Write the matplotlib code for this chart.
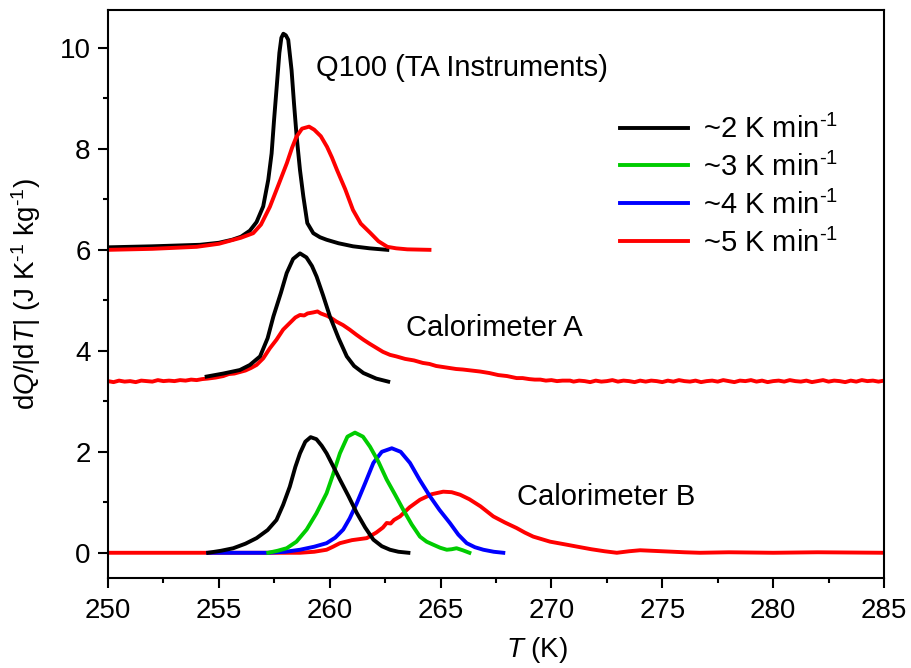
import matplotlib.pyplot as plt
from matplotlib.ticker import MultipleLocator

# Q100 (TA Instruments)
q100_t2 = [250.0, 252.0, 254.15, 255.0, 255.6, 256.0, 256.4, 256.7, 257.0, 257.23, 257.38,
           257.49, 257.61, 257.73, 257.82, 257.91, 258.02, 258.13, 258.28, 258.39, 258.51,
           258.66, 258.81, 258.99, 259.26, 259.56, 259.86, 260.4, 261.05, 261.8, 262.6]
q100_y2 = [6.05, 6.07, 6.1, 6.14, 6.2, 6.26, 6.38, 6.55, 6.86, 7.39, 7.91,
           8.57, 9.23, 9.9, 10.2, 10.28, 10.25, 10.16, 9.56, 8.9, 8.24,
           7.58, 7.06, 6.53, 6.33, 6.25, 6.2, 6.13, 6.07, 6.03, 6.0]
q100_t5 = [250.0, 252.0, 254.0, 255.0, 255.5, 256.0, 256.55, 256.9, 257.3, 257.7, 258.07,
           258.3, 258.5, 258.75, 259.07, 259.3, 259.6, 259.88, 260.1, 260.33, 260.7,
           261.05, 261.4, 261.82, 262.2, 262.6, 263.0, 263.5, 264.5]
q100_y5 = [6.0, 6.02, 6.06, 6.12, 6.18, 6.24, 6.33, 6.5, 6.85, 7.3, 7.72,
           8.02, 8.24, 8.4, 8.44, 8.38, 8.25, 8.04, 7.83, 7.58, 7.2,
           6.79, 6.52, 6.34, 6.17, 6.06, 6.03, 6.01, 6.0]

# Calorimeter A
a_t2 = [254.45, 255.2, 255.95, 256.4, 256.86, 257.2, 257.46, 257.8, 258.06, 258.35, 258.66,
        258.95, 259.2, 259.41, 259.7, 260.01, 260.4, 260.77, 261.1, 261.52, 262.1, 262.64]
a_y2 = [3.49, 3.55, 3.62, 3.72, 3.89, 4.25, 4.68, 5.15, 5.54, 5.82, 5.93,
        5.85, 5.68, 5.47, 5.1, 4.68, 4.25, 3.89, 3.7, 3.56, 3.45, 3.39]
a_t5 = [250.0, 250.25, 250.5, 250.75, 251.0, 251.25, 251.5, 251.75, 252.0, 252.25, 252.5,
        252.75, 253.0, 253.25, 253.5, 253.75, 254.0, 254.25, 254.5, 254.85, 255.2,
        255.45, 255.7, 255.95, 256.2, 256.45, 256.7, 257.0, 257.3, 257.6, 257.9,
        258.2, 258.45, 258.66, 258.85, 259.0, 259.25, 259.45, 259.6, 259.9, 260.1,
        260.3, 260.6, 260.9, 261.2, 261.52, 261.8, 262.1, 262.4, 262.72, 263.0,
        263.4, 263.8, 264.2, 264.5, 264.8, 265.1, 265.4, 265.7, 266.0, 266.4,
        266.78, 267.2, 267.6, 268.0, 268.43, 268.7, 269.0, 269.25, 269.5, 269.75,
        270.0, 270.25, 270.5, 270.84, 271.0, 271.25, 271.5, 271.75, 272.0, 272.25,
        272.5, 272.75, 273.0, 273.25, 273.5, 273.75, 274.0, 274.25, 274.5, 274.75,
        275.0, 275.25, 275.5, 275.75, 276.0, 276.25, 276.5, 276.75, 277.0, 277.25,
        277.5, 277.75, 278.0, 278.25, 278.5, 278.75, 279.0, 279.25, 279.5, 279.75,
        280.0, 280.25, 280.5, 280.75, 281.0, 281.25, 281.5, 281.75, 282.0, 282.25,
        282.5, 282.75, 283.0, 283.25, 283.5, 283.75, 284.0, 284.25, 284.5, 284.75,
        285.0]
a_y5 = [3.40, 3.38, 3.41, 3.39, 3.40, 3.38, 3.41, 3.40, 3.39, 3.42, 3.40,
        3.41, 3.40, 3.42, 3.41, 3.43, 3.42, 3.44, 3.45, 3.47, 3.50,
        3.54, 3.55, 3.58, 3.61, 3.66, 3.72, 3.85, 4.05, 4.22, 4.42,
        4.55, 4.66, 4.71, 4.70, 4.74, 4.76, 4.78, 4.74, 4.69, 4.64,
        4.58, 4.51, 4.42, 4.32, 4.22, 4.14, 4.06, 3.98, 3.92, 3.89,
        3.84, 3.81, 3.76, 3.74, 3.70, 3.68, 3.66, 3.64, 3.63, 3.61,
        3.59, 3.56, 3.52, 3.50, 3.46, 3.46, 3.44, 3.43, 3.43, 3.41,
        3.42, 3.40, 3.41, 3.41, 3.39, 3.41, 3.40, 3.38, 3.41, 3.39,
        3.40, 3.42, 3.39, 3.41, 3.40, 3.38, 3.41, 3.39, 3.41, 3.40,
        3.38, 3.41, 3.39, 3.42, 3.40, 3.39, 3.41, 3.38, 3.40, 3.41,
        3.39, 3.42, 3.40, 3.38, 3.41, 3.40, 3.42, 3.39, 3.41, 3.38,
        3.40, 3.41, 3.39, 3.42, 3.40, 3.39, 3.41, 3.38, 3.40, 3.42,
        3.39, 3.41, 3.40, 3.38, 3.41, 3.39, 3.42, 3.40, 3.41, 3.39,
        3.41]

# Calorimeter B
b_t2 = [254.52, 255.1, 255.65, 256.2, 256.7, 257.2, 257.6, 257.9, 258.2, 258.45, 258.66,
        258.9, 259.14, 259.4, 259.64, 259.86, 260.15, 260.46, 260.85, 261.22, 261.6,
        261.97, 262.35, 262.72, 263.1, 263.55]
b_y2 = [0.0, 0.04, 0.09, 0.18, 0.29, 0.45, 0.65, 0.95, 1.31, 1.7, 1.97,
        2.2, 2.29, 2.25, 2.12, 1.97, 1.72, 1.45, 1.12, 0.79, 0.5,
        0.26, 0.13, 0.06, 0.02, 0.0]
b_t3 = [257.23, 257.65, 258.06, 258.5, 258.96, 259.4, 259.86, 260.15, 260.46, 260.8, 261.14,
        261.5, 261.82, 262.2, 262.57, 262.95, 263.32, 263.7, 264.07, 264.37, 264.67,
        264.98, 265.28, 265.5, 265.72, 266.0, 266.3]
b_y3 = [0.0, 0.04, 0.09, 0.22, 0.46, 0.78, 1.18, 1.55, 1.97, 2.3, 2.38,
        2.3, 2.1, 1.8, 1.45, 1.15, 0.85, 0.56, 0.32, 0.22, 0.16,
        0.1, 0.06, 0.07, 0.09, 0.05, 0.0]
b_t4 = [254.52, 256.0, 257.23, 258.0, 258.66, 259.3, 259.86, 260.25, 260.61, 260.9, 261.22,
        261.6, 261.97, 262.35, 262.8, 263.2, 263.62, 264.05, 264.52, 264.95, 265.42,
        265.8, 266.18, 266.55, 266.93, 267.4, 267.83]
b_y4 = [0.0, 0.0, 0.0, 0.02, 0.06, 0.12, 0.19, 0.3, 0.46, 0.68, 0.98,
        1.38, 1.78, 2.0, 2.07, 2.0, 1.78, 1.45, 1.12, 0.85, 0.59,
        0.36, 0.19, 0.11, 0.06, 0.02, 0.0]
b_t5 = [250.0, 255.0, 258.0, 258.66, 259.3, 259.86, 260.15, 260.46, 261.0, 261.67, 262.1,
        262.4, 262.57, 262.75, 262.9, 263.17, 263.6, 264.07, 264.6, 265.12, 265.5,
        265.88, 266.3, 266.8, 267.38, 267.9, 268.43, 268.8, 269.18, 269.94, 270.69,
        271.3, 271.8, 272.4, 272.95, 273.5, 274.0, 275.0, 276.0, 276.7, 278.0,
        280.0, 282.0, 285.0]
b_y5 = [0.0, 0.0, 0.0, 0.0, 0.02, 0.06, 0.12, 0.19, 0.25, 0.29, 0.4,
        0.5, 0.59, 0.58, 0.65, 0.72, 0.9, 1.05, 1.16, 1.21, 1.2,
        1.15, 1.06, 0.92, 0.72, 0.6, 0.49, 0.4, 0.32, 0.22, 0.16,
        0.11, 0.07, 0.03, 0.0, 0.03, 0.05, 0.03, 0.01, 0.0, 0.01,
        0.0, 0.01, 0.0]

labels = [r'~2 K min$^{\text{-1}}$', r'~3 K min$^{\text{-1}}$',
          r'~4 K min$^{\text{-1}}$', r'~5 K min$^{\text{-1}}$']
colors = ['black', '#00cc00', '#0000ff', '#ff0000']

plt.rcParams['font.family'] = 'Liberation Sans'
plt.rcParams['mathtext.fontset'] = 'custom'
plt.rcParams['mathtext.rm'] = 'Liberation Sans'
plt.rcParams['mathtext.it'] = 'Liberation Sans:italic'

fig = plt.figure(figsize=(9.12, 6.68), dpi=100)
ax = fig.add_axes([0.1184, 0.1347, 0.8509, 0.8503])
lw = 2.8

ax.plot(q100_t2, q100_y2, color=colors[0], lw=lw)
ax.plot(q100_t5, q100_y5, color=colors[3], lw=lw)
ax.plot(a_t5, a_y5, color=colors[3], lw=lw)
ax.plot(a_t2, a_y2, color=colors[0], lw=lw)
ax.plot(b_t5, b_y5, color=colors[3], lw=lw, label=labels[3])
ax.plot(b_t4, b_y4, color=colors[2], lw=lw, label=labels[2])
ax.plot(b_t3, b_y3, color=colors[1], lw=lw, label=labels[1])
ax.plot(b_t2, b_y2, color=colors[0], lw=lw, label=labels[0])

ax.text(259.4, 9.6, 'Q100 (TA Instruments)', fontsize=21, va='center')
ax.text(263.45, 4.46, 'Calorimeter A', fontsize=21, va='center')
ax.text(268.45, 1.11, 'Calorimeter B', fontsize=21, va='center')

h, l = ax.get_legend_handles_labels()
ax.legend(h[::-1], l[::-1], loc='upper left', bbox_to_anchor=(0.66, 0.816),
          frameon=False, fontsize=21, handlelength=2.33, labelspacing=0.3,
          handletextpad=0.5, borderpad=0, borderaxespad=0)

ax.set_xlim(250, 285)
ax.set_ylim(-0.5, 10.75)
ax.xaxis.set_major_locator(MultipleLocator(5))
ax.xaxis.set_minor_locator(MultipleLocator(2.5))
ax.yaxis.set_major_locator(MultipleLocator(2))
ax.yaxis.set_minor_locator(MultipleLocator(1))
ax.tick_params(which='both', direction='out', labelsize=20, width=1.5)
ax.tick_params(which='major', length=7.5)
ax.tick_params(which='minor', length=3.8)
ax.tick_params(axis='x', pad=7)
ax.tick_params(axis='y', pad=5)
for s in ax.spines.values():
    s.set_linewidth(1.5)

ax.set_xlabel('$T$ (K)', fontsize=20)
ax.set_ylabel(r'd$Q$/|d$T$| (J K$^{\text{-1}}$ kg$^{\text{-1}}$)', fontsize=20)
ax.xaxis.set_label_coords(0.553, -0.1)
ax.yaxis.set_label_coords(-0.084, 0.5)

plt.savefig('out.png', dpi=100)
